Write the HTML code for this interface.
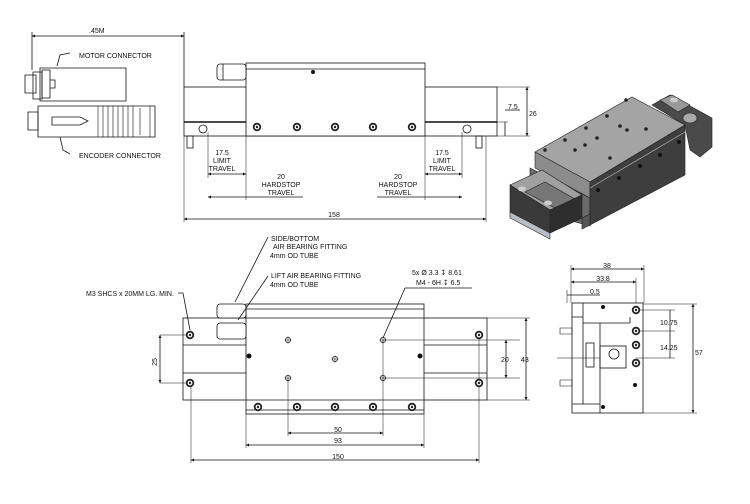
<!DOCTYPE html>
<html><head><meta charset="utf-8"><style>
html,body{margin:0;padding:0;background:#fff}
svg{display:block}
text{font-family:"Liberation Sans",sans-serif;font-size:7px;fill:#111}
</style></head><body>
<svg width="750" height="504" viewBox="0 0 750 504" xmlns="http://www.w3.org/2000/svg">
<defs>
<marker id="a" viewBox="0 0 6 6" refX="6" refY="3" markerWidth="4" markerHeight="4" orient="auto-start-reverse"><path d="M0,0L6,3L0,6z" fill="#111"/></marker>
<g id="bolt"><circle r="4.2" fill="#222"/><circle r="2.4" fill="#fff"/><circle r="1.2" fill="#222"/></g>
<g id="hole"><circle r="2.6" fill="none" stroke="#222" stroke-width="0.8"/><path d="M-3.5,0H3.5M0,-3.5V3.5" stroke="#222" stroke-width="0.5"/></g>
</defs>
<g stroke="#111" stroke-width="0.8" fill="none">
<line x1="32" y1="36" x2="184" y2="36" marker-start="url(#a)" marker-end="url(#a)"/>
<line x1="32" y1="32" x2="32" y2="70"/><line x1="184" y1="32" x2="184" y2="87"/>
<path d="M40,68H126V101H40z" fill="#fff"/>
<path d="M33,72H42V99H33z"/>
<path d="M25,75H36V93H25z"/>
<path d="M42,70H50V98H42z M50,80H55V88H50z"/>
<path d="M70,53L60,55L57,66"/>
<path d="M38,106H155V137H38z" fill="#fff"/>
<path d="M28,112H38V130H28z"/>
<path d="M98,106V137M103,106V137M108,106V137M113,106V137M118,106V137M123,106V137M128,106V137M133,106V137M140,108V135M150,106V137" stroke-width="0.6"/>
<path d="M52,117H80L88,121L80,125H52z"/>
<path d="M60,137L63,150L70,154"/>
<rect x="184" y="87" width="313" height="49" fill="#fff"/>
<line x1="184" y1="122" x2="246" y2="122" stroke-width="1.4"/>
<line x1="425" y1="122" x2="497" y2="122" stroke-width="1.4"/>
<rect x="246" y="63" width="179" height="73" fill="#fff"/>
<line x1="246" y1="69" x2="425" y2="69"/>
<rect x="217" y="64" width="29" height="16" rx="3" fill="#fff"/>
<line x1="223" y1="64" x2="223" y2="80"/>
<rect x="187" y="136" width="6" height="12"/><rect x="476" y="136" width="6" height="12"/>
<circle cx="203" cy="129" r="4"/><circle cx="467" cy="129" r="4"/>
<path d="M208,132V178M246,136V200M425,136V200M462,132V178M184,136V222M486,136V222" stroke-width="0.5"/>
<line x1="208" y1="174" x2="246" y2="174" marker-start="url(#a)" marker-end="url(#a)"/>
<line x1="425" y1="174" x2="462" y2="174" marker-start="url(#a)" marker-end="url(#a)"/>
<line x1="208" y1="197" x2="303" y2="197" marker-start="url(#a)"/>
<line x1="377" y1="197" x2="462" y2="197" marker-end="url(#a)"/>
<line x1="184" y1="219" x2="486" y2="219" marker-start="url(#a)" marker-end="url(#a)"/>
<path d="M497,87H530M497,136H530M497,122H508" stroke-width="0.5"/>
<line x1="527" y1="87" x2="527" y2="136" marker-start="url(#a)" marker-end="url(#a)"/>
<line x1="505" y1="122" x2="505" y2="136"/><line x1="505" y1="110" x2="520" y2="110"/>
<rect x="183" y="318" width="304" height="82" fill="#fff"/>
<path d="M183,345H246M183,373H246M424,345H487M424,373H487"/>
<rect x="246" y="304" width="178" height="110" fill="#fff"/>
<path d="M246,309H424M246,318H424M246,400H424M246,410H424"/>
<rect x="217" y="304" width="29" height="14" rx="3" fill="#fff"/>
<rect x="217" y="323" width="29" height="16" rx="3" fill="#fff"/>
<path d="M160,335H188M160,383H188M383,340H520M383,378H520M487,318H530M487,400H530M288,378V436M383,340V436M246,414V448M424,414V448M191,383V463M479,335V463" stroke-width="0.5"/>
<line x1="160" y1="335" x2="160" y2="383" marker-start="url(#a)" marker-end="url(#a)"/>
<line x1="506" y1="340" x2="506" y2="378" marker-start="url(#a)" marker-end="url(#a)"/>
<line x1="526" y1="318" x2="526" y2="400" marker-start="url(#a)" marker-end="url(#a)"/>
<line x1="288" y1="433" x2="383" y2="433" marker-start="url(#a)" marker-end="url(#a)"/>
<line x1="246" y1="445" x2="424" y2="445" marker-start="url(#a)" marker-end="url(#a)"/>
<line x1="191" y1="460" x2="479" y2="460" marker-start="url(#a)" marker-end="url(#a)"/>
<path d="M268,237L235,302M268,276L238,320M405,288H472M405,288L383,338M178,293H183L190,330"/>
<rect x="572" y="303" width="71" height="110" fill="#fff"/>
<path d="M572,317H583V303M583,317V404M572,404H600V413M600,323V413M583,323H630M630,317V323"/>
<rect x="600" y="346" width="26" height="22"/>
<rect x="586" y="343" width="8" height="24"/>
<circle cx="614" cy="354" r="5"/>
<path d="M560,328H572V334H560zM560,380H572V386H560zM557,358H600" stroke-width="0.6"/>
<path d="M571,265V303M644,265V303M636,278V303M567,290V303M643,304H697M643,413H697M636,310H675M636,331H675M636,358H675" stroke-width="0.5"/>
<line x1="571" y1="269" x2="644" y2="269" marker-start="url(#a)" marker-end="url(#a)"/>
<line x1="571" y1="282" x2="636" y2="282" marker-start="url(#a)" marker-end="url(#a)"/>
<line x1="567" y1="295" x2="600" y2="295"/>
<line x1="693" y1="304" x2="693" y2="413" marker-start="url(#a)" marker-end="url(#a)"/>
<line x1="670" y1="310" x2="670" y2="358"/>
</g>
<use href="#bolt" x="257" y="127"/><use href="#bolt" x="297" y="127"/><use href="#bolt" x="335" y="127"/><use href="#bolt" x="373" y="127"/><use href="#bolt" x="412" y="127"/>
<circle cx="313" cy="72" r="2" fill="#111"/>
<use href="#bolt" x="190" y="335"/><use href="#bolt" x="190" y="383"/><use href="#bolt" x="479" y="335"/><use href="#bolt" x="479" y="383"/>
<use href="#bolt" x="258" y="407"/><use href="#bolt" x="297" y="407"/><use href="#bolt" x="335" y="407"/><use href="#bolt" x="373" y="407"/><use href="#bolt" x="412" y="407"/>
<use href="#hole" x="288" y="340"/><use href="#hole" x="383" y="340"/><use href="#hole" x="335" y="359"/><use href="#hole" x="288" y="378"/><use href="#hole" x="383" y="378"/>
<circle cx="249" cy="356" r="2.5" fill="#111"/><circle cx="420" cy="356" r="2.5" fill="#111"/>
<use href="#bolt" x="636" y="310"/><use href="#bolt" x="636" y="331"/><use href="#bolt" x="636" y="345"/><use href="#bolt" x="636" y="363"/>
<circle cx="603" cy="307" r="2" fill="#111"/><circle cx="635" cy="385" r="2" fill="#111"/><circle cx="603" cy="407" r="2" fill="#111"/>
<!-- iso view -->
<g stroke="#222" stroke-width="0.6">
<polygon points="652,105 670,95 712,118 712,147 700,157 690,150 685,125" fill="#4a4a4a"/>
<polygon points="660,100 672,95 690,105 678,112" fill="#999"/>
<ellipse cx="690" cy="118" rx="7" ry="5" fill="#aaa"/>
<polygon points="530,168 590,198 590,226 550,215 530,190" fill="#6a6a6a"/>
<polygon points="535,152 632,97 685,125 590,182" fill="#a4a4a4"/>
<polygon points="535,152 590,182 590,198 535,168" fill="#8c8c8c"/>
<polygon points="590,182 685,125 685,175 590,225" fill="#3e3e3e"/>
<line x1="590" y1="188" x2="685" y2="132" stroke="#bbb"/>
<polygon points="510,185 542,170 582,195 550,210" fill="#a0a0a0"/>
<polygon points="525,192 545,182 575,199 555,208" fill="#777"/>
<polygon points="510,185 550,210 550,233 510,213" fill="#3a3a3a"/>
<polygon points="550,210 582,195 582,218 550,233" fill="#2e2e2e"/>
<polygon points="582,218 590,214 590,225 582,229" fill="#555"/>
<polygon points="510,212 550,233 550,239 510,218" fill="#b8bcc4"/>
</g>
<g fill="#222"><circle cx="575" cy="150" r="1.8"/><circle cx="597" cy="138" r="1.8"/><circle cx="620" cy="126" r="1.8"/><circle cx="610" cy="158" r="1.8"/><circle cx="627" cy="130" r="1.8"/><circle cx="646" cy="129" r="1.8"/><circle cx="585" cy="145" r="1.8"/><circle cx="545" cy="150" r="1.8"/><circle cx="565" cy="140" r="1.8"/><circle cx="586" cy="128" r="1.8"/><circle cx="607" cy="116" r="1.8"/><circle cx="626" cy="100" r="1.8"/></g>
<g fill="#111"><circle cx="598" cy="190" r="2"/><circle cx="619" cy="178" r="2"/><circle cx="640" cy="166" r="2"/><circle cx="660" cy="155" r="2"/><circle cx="679" cy="142" r="2"/></g>
<g fill="#ccc"><ellipse cx="522" cy="189" rx="4" ry="2.5"/><ellipse cx="548" cy="203" rx="4" ry="2.5"/><ellipse cx="674" cy="100" rx="4" ry="2.5"/></g>
<text x="89" y="33">.45M</text>
<text x="79" y="58">MOTOR CONNECTOR</text>
<text x="79" y="158">ENCODER CONNECTOR</text>
<text x="222" y="155" text-anchor="middle">17.5</text><text x="222" y="163" text-anchor="middle">LIMIT</text><text x="222" y="171" text-anchor="middle">TRAVEL</text>
<text x="442" y="155" text-anchor="middle">17.5</text><text x="442" y="163" text-anchor="middle">LIMIT</text><text x="442" y="171" text-anchor="middle">TRAVEL</text>
<text x="281" y="179" text-anchor="middle">20</text><text x="281" y="187" text-anchor="middle">HARDSTOP</text><text x="281" y="195" text-anchor="middle">TRAVEL</text>
<text x="398" y="179" text-anchor="middle">20</text><text x="398" y="187" text-anchor="middle">HARDSTOP</text><text x="398" y="195" text-anchor="middle">TRAVEL</text>
<text x="334" y="217" text-anchor="middle">158</text>
<text x="508" y="109">7.5</text><text x="529" y="116">26</text>
<text x="271" y="241">SIDE/BOTTOM</text><text x="273" y="249">AIR BEARING FITTING</text><text x="270" y="258">4mm OD TUBE</text>
<text x="271" y="278">LIFT AIR BEARING FITTING</text><text x="270" y="287">4mm OD TUBE</text>
<text x="412" y="275">5x Ø 3.3 ↧ 8.61</text><text x="416" y="285">M4 - 6H ↧ 6.5</text>
<text x="86" y="296">M3 SHCS x 20MM LG. MIN.</text>
<text x="157" y="362" transform="rotate(-90 157 362)" text-anchor="middle">25</text>
<text x="501" y="362">20</text><text x="521" y="362">43</text>
<text x="338" y="432" text-anchor="middle">50</text><text x="338" y="443" text-anchor="middle">93</text><text x="338" y="459" text-anchor="middle">150</text>
<text x="607" y="268" text-anchor="middle">38</text><text x="603" y="281" text-anchor="middle">33.8</text><text x="590" y="294">0.5</text>
<text x="660" y="325">10.75</text><text x="660" y="350">14.25</text><text x="695" y="355">57</text>
</svg>
</body></html>
